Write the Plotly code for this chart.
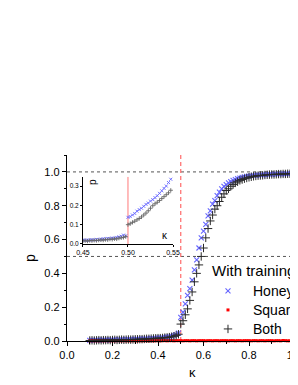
import plotly.graph_objects as go

# ---------------- data ----------------
kappa = [0.10,0.11,0.12,0.13,0.14,0.15,0.16,0.17,0.18,0.19,
         0.20,0.21,0.22,0.23,0.24,0.25,0.26,0.27,0.28,0.29,
         0.30,0.31,0.32,0.33,0.34,0.35,0.36,0.37,0.38,0.39,
         0.40,0.41,0.42,0.43,0.44,0.45,0.46,0.47,0.48,0.49,
         0.50,0.51,0.52,0.53,0.54,0.55,0.56,0.57,0.58,0.59,
         0.60,0.61,0.62,0.63,0.64,0.65,0.66,0.67,0.68,0.69,
         0.70,0.71,0.72,0.73,0.74,0.75,0.76,0.77,0.78,0.79,
         0.80,0.81,0.82,0.83,0.84,0.85,0.86,0.87,0.88,0.89,
         0.90,0.91,0.92,0.93,0.94,0.95,0.96,0.97,0.98,0.99,1.00]

p_honeycomb = [0.004,0.005,0.004,0.005,0.006,0.005,0.006,0.006,0.007,0.006,
               0.007,0.008,0.007,0.008,0.009,0.008,0.009,0.010,0.009,0.010,
               0.011,0.011,0.012,0.012,0.013,0.014,0.014,0.015,0.016,0.017,
               0.018,0.019,0.020,0.022,0.024,0.026,0.029,0.033,0.038,0.046,
               0.140,0.170,0.220,0.270,0.310,0.360,0.420,0.480,0.550,0.610,
               0.650,0.690,0.740,0.770,0.810,0.830,0.860,0.880,0.900,0.915,
               0.925,0.935,0.943,0.950,0.955,0.960,0.963,0.967,0.970,0.973,
               0.975,0.977,0.979,0.980,0.981,0.982,0.983,0.984,0.985,0.985,
               0.986,0.987,0.987,0.988,0.988,0.989,0.989,0.990,0.990,0.990,0.991]

p_square = [0.001,0.002,0.001,0.002,0.001,0.002,0.001,0.002,0.002,0.001,
            0.002,0.001,0.002,0.002,0.001,0.002,0.001,0.002,0.001,0.002,
            0.002,0.001,0.002,0.001,0.002,0.002,0.001,0.002,0.001,0.002,
            0.002,0.001,0.002,0.002,0.001,0.002,0.002,0.001,0.002,0.002,
            0.002,0.001,0.002,0.002,0.001,0.002,0.002,0.001,0.002,0.002,
            0.002,0.001,0.002,0.002,0.001,0.002,0.002,0.001,0.002,0.002,
            0.002,0.001,0.002,0.002,0.001,0.002,0.002,0.001,0.002,0.002,
            0.002,0.001,0.002,0.002,0.001,0.002,0.002,0.001,0.002,0.002,
            0.002,0.001,0.002,0.002,0.001,0.003,0.002,0.001,0.002,0.002,0.002]

p_both = [0.003,0.004,0.003,0.004,0.005,0.004,0.005,0.005,0.006,0.005,
          0.006,0.007,0.006,0.007,0.008,0.007,0.008,0.009,0.008,0.009,
          0.010,0.010,0.011,0.011,0.012,0.013,0.013,0.014,0.015,0.016,
          0.017,0.017,0.018,0.020,0.021,0.023,0.025,0.028,0.033,0.040,
          0.100,0.120,0.155,0.190,0.240,0.290,0.350,0.400,0.450,0.500,
          0.550,0.610,0.665,0.710,0.745,0.780,0.800,0.825,0.850,0.870,
          0.890,0.900,0.915,0.925,0.935,0.942,0.950,0.955,0.960,0.964,
          0.968,0.971,0.974,0.976,0.978,0.979,0.980,0.982,0.983,0.984,
          0.985,0.985,0.986,0.987,0.987,0.988,0.988,0.989,0.989,0.990,0.990]

inset_kappa = [0.4500,0.4525,0.4550,0.4575,0.4600,0.4625,0.4650,0.4675,0.4700,0.4725,
               0.4750,0.4775,0.4800,0.4825,0.4850,0.4875,0.4900,0.4925,0.4950,0.4975,
               0.5000,0.5025,0.5050,0.5075,0.5100,0.5125,0.5150,0.5175,0.5200,0.5225,
               0.5250,0.5275,0.5300,0.5325,0.5350,0.5375,0.5400,0.5425,0.5450,0.5475]

inset_honeycomb = [0.020,0.019,0.021,0.020,0.022,0.021,0.024,0.022,0.025,0.027,
                   0.026,0.029,0.028,0.031,0.030,0.034,0.037,0.040,0.046,0.042,
                   0.138,0.142,0.150,0.158,0.170,0.178,0.185,0.195,0.205,0.212,
                   0.222,0.230,0.240,0.250,0.262,0.275,0.288,0.300,0.318,0.335]

inset_both = [0.016,0.017,0.015,0.018,0.017,0.019,0.018,0.020,0.021,0.020,
              0.023,0.022,0.025,0.024,0.027,0.026,0.030,0.032,0.034,0.038,
              0.100,0.105,0.112,0.118,0.125,0.132,0.140,0.150,0.160,0.172,
              0.185,0.198,0.208,0.216,0.225,0.235,0.245,0.255,0.265,0.278]

series_names = ["Honeycomb", "Square", "Both"]
legend_title = "With training"
main_x_ticks = [0.0, 0.2, 0.4, 0.6, 0.8, 1.0]
main_y_ticks = [0.0, 0.2, 0.4, 0.6, 0.8, 1.0]
inset_x_ticks = [0.45, 0.50, 0.55]
inset_y_ticks = [0.0, 0.1, 0.2, 0.3]
critical_kappa = 0.5
ref_levels = [1.0, 0.5]

# ---------------- styles ----------------
FONT = "Arial, Liberation Sans, sans-serif"
BLUE = "#6464ff"
RED = "#ff0000"
BLACK = "#2a2a2a"
GRAY = "#666666"


def big(name):
    return f"<span style='font-size:14px'>{name}</span>"


fig = go.Figure()

fig.add_trace(go.Scatter(
    x=kappa, y=p_honeycomb, mode="markers", name=big(series_names[0]),
    marker=dict(symbol="x-thin-open", size=5, line=dict(color=BLUE, width=1.1), color=BLUE),
    cliponaxis=False))
fig.add_trace(go.Scatter(
    x=kappa, y=p_square, mode="markers", name=big(series_names[1]),
    marker=dict(symbol="square", size=3, color=RED, line=dict(width=0)),
    cliponaxis=False))
fig.add_trace(go.Scatter(
    x=kappa, y=p_both, mode="markers", name=big(series_names[2]),
    marker=dict(symbol="cross-thin-open", size=6, line=dict(color=BLACK, width=1), color=BLACK),
    cliponaxis=False))

# inset
fig.add_trace(go.Scatter(
    x=inset_kappa, y=inset_honeycomb, mode="markers", showlegend=False,
    xaxis="x2", yaxis="y2",
    marker=dict(symbol="x-thin-open", size=3, line=dict(color=BLUE, width=0.9), color=BLUE)))
fig.add_trace(go.Scatter(
    x=inset_kappa, y=inset_both, mode="markers", showlegend=False,
    xaxis="x2", yaxis="y2",
    marker=dict(symbol="cross-thin-open", size=3, line=dict(color=GRAY, width=0.9), color=GRAY)))

# reference lines
for lvl in ref_levels:
    fig.add_shape(type="line", xref="x domain", yref="y", x0=0, x1=1, y0=lvl, y1=lvl,
                  line=dict(color="#555555", width=1, dash="dot"), layer="below")
fig.add_shape(type="line", xref="x", yref="y domain", x0=critical_kappa, x1=critical_kappa,
              y0=0, y1=1, line=dict(color="#ff6a6a", width=1.2, dash="4px,3px"), layer="below")
fig.add_shape(type="line", xref="x2", yref="y2 domain", x0=critical_kappa, x1=critical_kappa,
              y0=0, y1=1, line=dict(color="#ff7a7a", width=1), layer="below")

axis_common = dict(showline=True, linecolor="black", showgrid=False, zeroline=False,
                   ticks="outside", tickcolor="black", automargin=False,
                   ticklabeloverflow="allow")

fig.update_layout(
    width=290, height=377,
    margin=dict(l=59, r=0, t=147, b=44, autoexpand=False),
    paper_bgcolor="white", plot_bgcolor="rgba(0,0,0,0)",
    font=dict(family=FONT, color="black"),
    xaxis=dict(range=[0, 1.0154], tickvals=main_x_ticks, ticktext=["0.0","0.2","0.4","0.6","0.8","1.0"],
               linewidth=1.3, ticklen=4, tickwidth=1.2, tickfont=dict(size=11),
               minor=dict(dtick=0.1, tick0=0, ticks="outside", ticklen=2, tickcolor="black"),
               **axis_common),
    yaxis=dict(range=[0, 1.1], tickvals=main_y_ticks, ticktext=["0.0","0.2","0.4","0.6","0.8","1.0"],
               linewidth=1.3, ticklen=4, tickwidth=1.2, tickfont=dict(size=11),
               minor=dict(dtick=0.1, tick0=0, ticks="outside", ticklen=2, tickcolor="black"),
               **axis_common),
    xaxis2=dict(domain=[0.069, 0.459], anchor="y2", range=[0.45, 0.55],
                tickvals=inset_x_ticks, ticktext=["0.45","0.50","0.55"],
                linewidth=0.8, ticklen=2, tickwidth=0.8, tickfont=dict(size=7), **axis_common),
    yaxis2=dict(domain=[0.5215, 0.882], anchor="x2", range=[0, 0.347],
                tickvals=inset_y_ticks, ticktext=["0.0","0.1","0.2","0.3"],
                linewidth=0.8, ticklen=2, tickwidth=0.8, tickfont=dict(size=6.5), **axis_common),
    legend=dict(x=0.619, y=0.452, xanchor="left", yanchor="top",
                bgcolor="rgba(0,0,0,0)", borderwidth=0,
                title=dict(text=legend_title, font=dict(size=15)),
                font=dict(size=12), itemwidth=40, indentation=-7,
                tracegroupgap=0),
    showlegend=True,
    annotations=[
        dict(text="p", xref="paper", yref="paper", x=-0.16, y=0.446, showarrow=False,
             textangle=-90, font=dict(size=14), xanchor="center", yanchor="middle"),
        dict(text="κ", xref="x", yref="paper", x=0.55, y=-0.172, showarrow=False,
             font=dict(size=13), xanchor="center", yanchor="middle"),
        dict(text="p", xref="paper", yref="paper", x=0.113, y=0.855, showarrow=False,
             textangle=-90, font=dict(size=10), xanchor="center", yanchor="middle"),
        dict(text="κ", xref="paper", yref="paper", x=0.424, y=0.565, showarrow=False,
             font=dict(size=10), xanchor="center", yanchor="middle"),
    ],
)

fig.write_html("out.html", config={"displayModeBar": False})
